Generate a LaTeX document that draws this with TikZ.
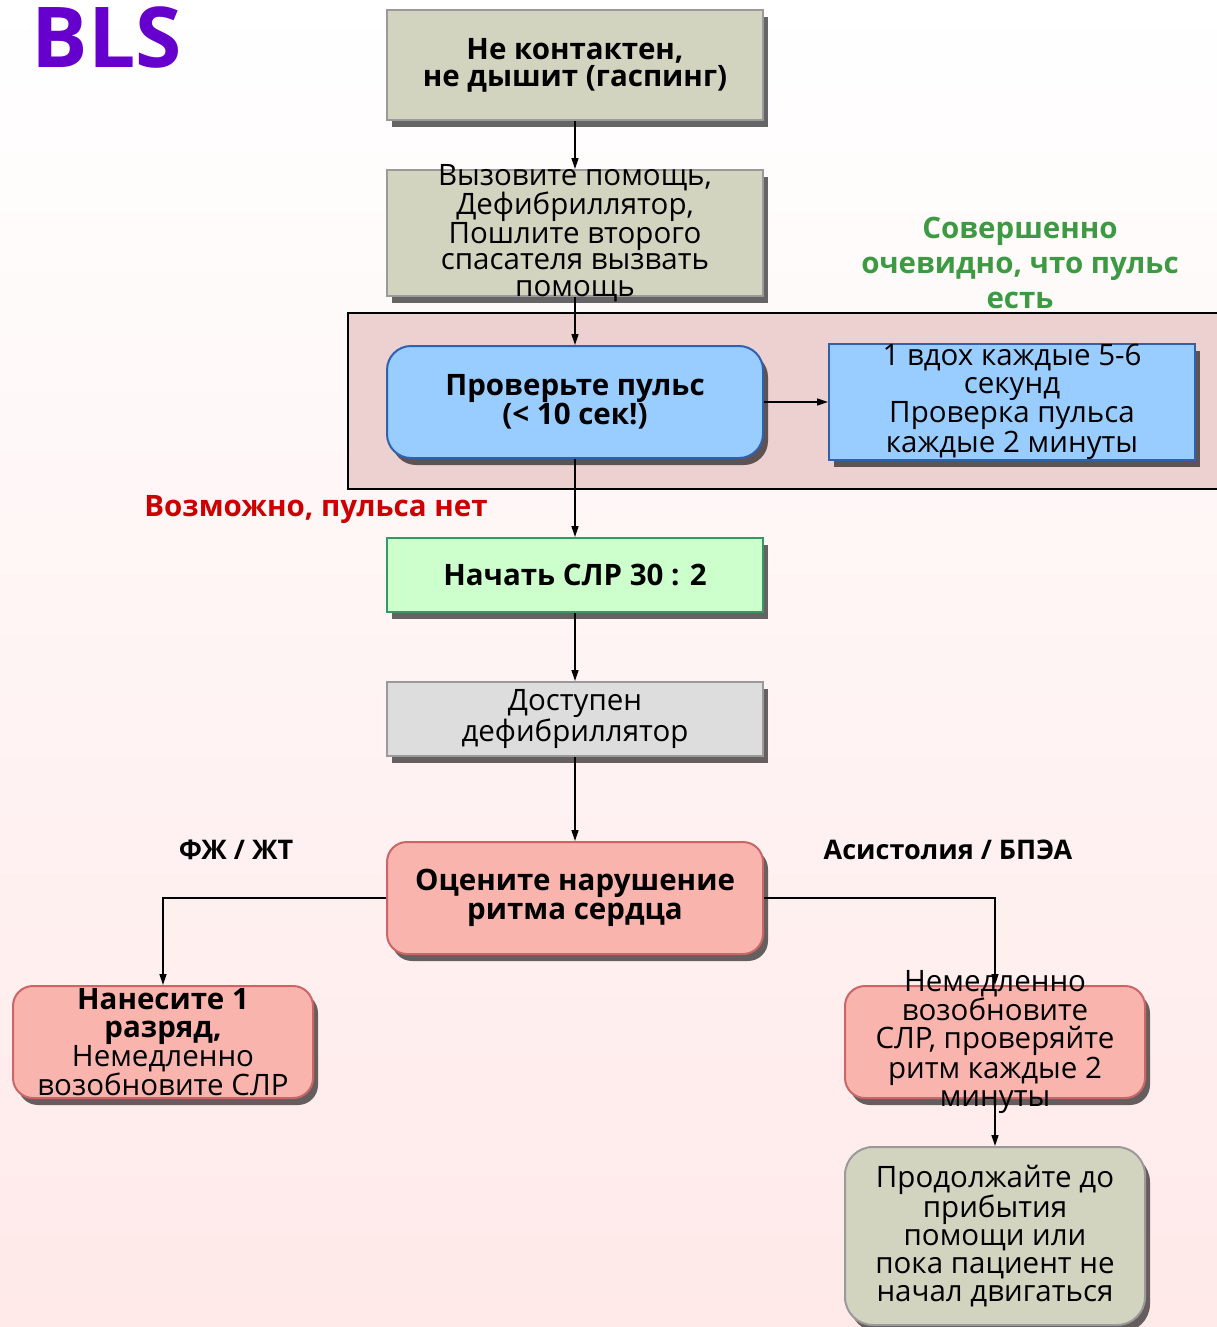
\documentclass[tikz,border=0pt]{standalone}
\usepackage{fontspec}
\setmainfont{Open Sans}
\usetikzlibrary{positioning, arrows.meta, shadows}

\definecolor{khaki}{HTML}{D2D4BF}
\definecolor{khakiline}{HTML}{9A9A9A}
\definecolor{skyfill}{HTML}{99CCFF}
\definecolor{skyline}{HTML}{3060B0}
\definecolor{mintfill}{HTML}{CCFFCC}
\definecolor{mintline}{HTML}{339966}
\definecolor{greyfill}{HTML}{DDDDDD}
\definecolor{salmon}{HTML}{FAB4AE}
\definecolor{salmonline}{HTML}{CC6666}
\definecolor{zonefill}{HTML}{EDD0D0}
\definecolor{titlepurple}{HTML}{6600CC}
\definecolor{okgreen}{HTML}{3D9A42}
\definecolor{nored}{HTML}{CC0000}
\definecolor{bgpink}{HTML}{FFE9E9}

\begin{document}
\begin{tikzpicture}[x=1pt, y=-1pt,
    box/.style={draw, line width=2pt, minimum width=376pt, inner sep=0pt, align=center,
        font=\fontsize{29.5}{28}\selectfont,
        drop shadow={shadow xshift=5pt, shadow yshift=-7pt, fill=black, opacity=0.6}},
    khakibox/.style={box, fill=khaki, draw=khakiline},
    bluebox/.style={box, fill=skyfill, draw=skyline},
    greenbox/.style={box, fill=mintfill, draw=mintline},
    greybox/.style={box, fill=greyfill, draw=khakiline},
    redbox/.style={box, fill=salmon, draw=salmonline, rounded corners=20pt},
    boxtext/.style={align=center, inner sep=0pt, font=\fontsize{29.5}{28}\selectfont},
    note/.style={inner sep=0pt, align=center, font=\bfseries\fontsize{29.5}{35}\selectfont},
    arr/.style={draw, line width=1.4pt, -{Triangle[length=11pt, width=7pt]}}]

    \useasboundingbox (0,0) rectangle (1217,1327);
    \clip (0,0) rectangle (1217,1327);
    \shade[top color=white, bottom color=bgpink] (0,0) rectangle (1217,1327);

    % zone where the pulse is checked
    \draw[line width=2pt, fill=zonefill] (348,313) rectangle (1230,489);

    % the steps
    \node[khakibox, minimum height=110pt, font=\bfseries\fontsize{29.5}{27}\selectfont] (b1) at (575,65) {Не контактен,\\не дышит (гаспинг)};
    \node[khakibox, below of=b1, node distance=168pt, minimum height=126pt,
        label={[boxtext, font=\fontsize{29.5}{26.5}\selectfont]center:{Вызовите помощь,\\Дефибриллятор,\\Пошлите второго\\спасателя вызвать\\помощь}}] (b2) {};
    \node[bluebox, rounded corners=24pt, below of=b2, node distance=169pt, minimum height=112pt,
        font=\bfseries\fontsize{29.5}{27}\selectfont] (b3) {Проверьте пульс\\(< 10 сек!)};
    \node[bluebox, right of=b3, node distance=437pt, minimum width=366pt, minimum height=112pt] (b4) {1 вдох каждые 5-6\\секунд\\Проверка пульса\\каждые 2 минуты};
    \node[greenbox, below of=b3, node distance=173pt, minimum height=74pt, font=\bfseries\fontsize{29.5}{28}\selectfont] (b5) {Начать СЛР 30 : 2};
    \node[greybox, below of=b5, node distance=144pt, minimum height=74pt, font=\fontsize{29.5}{27}\selectfont] (b6) {Доступен\\дефибриллятор};
    \node[redbox, below of=b6, node distance=179pt, minimum height=112pt, font=\bfseries\fontsize{29.5}{29}\selectfont] (b7) {Оцените нарушение\\ритма сердца};
    \node[redbox, minimum width=300pt, minimum height=112pt] (b8) at (163,1042) {\textbf{Нанесите 1}\\\textbf{разряд,}\\Немедленно\\возобновите СЛР};
    \node[redbox, minimum width=300pt, minimum height=112pt,
        label={[boxtext]center:{Немедленно\\возобновите\\СЛР, проверяйте\\ритм каждые 2\\минуты}}] (b9) at (995,1042) {};
    \node[khakibox, rounded corners=28pt, below of=b9, node distance=194pt, minimum width=300pt, minimum height=178pt] (b10) {Продолжайте до\\прибытия\\помощи или\\пока пациент не\\начал двигаться};

    % titles and branch labels
    \node[font=\bfseries\fontsize{84}{84}\selectfont, text=titlepurple] (title) at (107,37) {BLS};
    \node[note, text=okgreen] (pulseyes) at (1020,263) {Совершенно\\очевидно, что пульс\\есть};
    \node[note, text=nored] (pulseno) at (316,510) {Возможно, пульса нет};
    \node[note, font=\bfseries\fontsize{27}{27}\selectfont] (vfvt) at (236,850) {ФЖ / ЖТ};
    \node[note, font=\bfseries\fontsize{27}{27}\selectfont] (asys) at (948,850) {Асистолия / БПЭА};

    % connectors
    \path[arr]
    (b1) edge (b2)
    (b2) edge (b3)
    (b3) edge (b4)
    (b3) edge (b5)
    (b5) edge (b6)
    (b6) edge (b7)
    (b9) edge (b10);
    \draw[arr] (b7.west) -| (b8.north);
    \draw[arr] (b7.east) -| (b9.north);
\end{tikzpicture}
\end{document}
